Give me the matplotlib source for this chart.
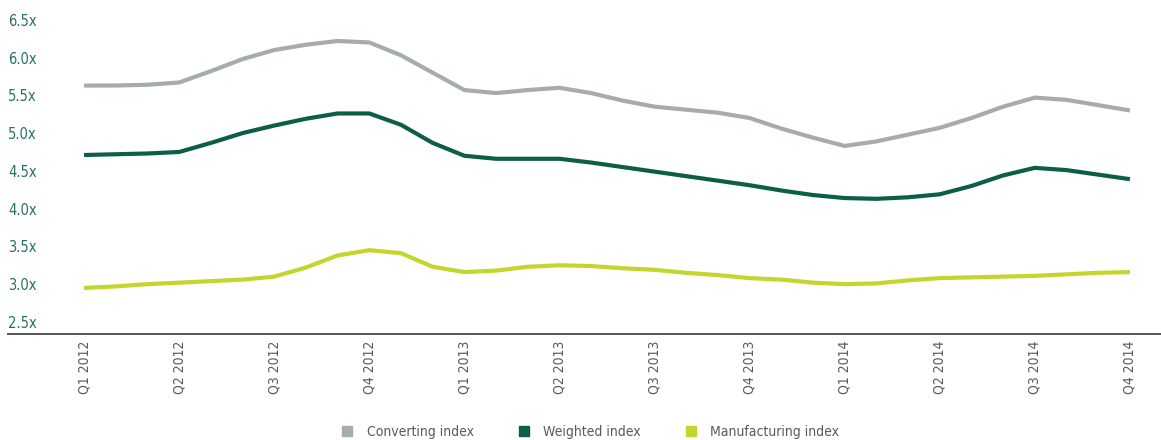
import matplotlib
matplotlib.use("Agg")
import matplotlib.pyplot as plt
from matplotlib.lines import Line2D
from matplotlib import font_manager

# monthly readings, Jan 2012 .. Oct 2014 (quarter ticks every 3 points)
converting = [5.63, 5.63, 5.64, 5.67, 5.82, 5.98, 6.10, 6.17, 6.22, 6.20,
              6.03, 5.80, 5.57, 5.53, 5.57, 5.60, 5.53, 5.43, 5.35, 5.31,
              5.27, 5.20, 5.06, 4.94, 4.83, 4.89, 4.98, 5.07, 5.20, 5.35,
              5.47, 5.44, 5.37, 5.30]
weighted = [4.71, 4.72, 4.73, 4.75, 4.87, 5.00, 5.10, 5.19, 5.26, 5.26,
            5.11, 4.87, 4.70, 4.66, 4.66, 4.66, 4.61, 4.55, 4.49, 4.43,
            4.37, 4.31, 4.24, 4.18, 4.14, 4.13, 4.15, 4.19, 4.30, 4.44,
            4.54, 4.51, 4.45, 4.39]
manufacturing = [2.95, 2.97, 3.00, 3.02, 3.04, 3.06, 3.10, 3.22, 3.38, 3.45,
                 3.41, 3.23, 3.16, 3.18, 3.23, 3.25, 3.24, 3.21, 3.19, 3.15,
                 3.12, 3.08, 3.06, 3.02, 3.00, 3.01, 3.05, 3.08, 3.09, 3.10,
                 3.11, 3.13, 3.15, 3.16]
quarters = ["Q1 2012", "Q2 2012", "Q3 2012", "Q4 2012",
            "Q1 2013", "Q2 2013", "Q3 2013", "Q4 2013",
            "Q1 2014", "Q2 2014", "Q3 2014", "Q4 2014"]
yticks = [2.5, 3.0, 3.5, 4.0, 4.5, 5.0, 5.5, 6.0, 6.5]

names = {f.name for f in font_manager.fontManager.ttflist}
if "Liberation Sans Narrow" in names:
    plt.rcParams["font.family"] = ["Liberation Sans Narrow", "DejaVu Sans"]
else:
    plt.rcParams["font.family"] = ["DejaVu Sans"]
    plt.rcParams["font.stretch"] = "condensed"

c_conv = "#a4adaa"
c_weight = "#0c5e4b"
c_manu = "#c4d52d"

fig = plt.figure(figsize=(11.61, 4.40), dpi=100)
ax = fig.add_axes([8 / 1161, 1 - 334 / 440, 1153 / 1161, 324 / 440])

months = list(range(len(converting)))
for vals, col in ((converting, c_conv), (weighted, c_weight), (manufacturing, c_manu)):
    ax.plot(months, vals, color=col, lw=3.0, solid_capstyle="butt",
            solid_joinstyle="round")

ax.set_xlim(-2.4, 33.98)
ax.set_ylim(2.34, 6.63)

ax.set_xticks(range(0, 34, 3))
ax.set_xticklabels(quarters, rotation=90, va="top", ha="center",
                   fontsize=10, color="#5a5a5a")
ax.set_yticks(yticks)
ax.set_yticklabels(["%.1fx" % v for v in yticks], fontsize=10.5,
                   color="#2b6e64", ha="left")
ax.tick_params(axis="y", length=0, pad=0)
ax.tick_params(axis="x", length=0, pad=5)

for s in ["top", "right", "left"]:
    ax.spines[s].set_visible(False)
ax.spines["bottom"].set_color("#555555")
ax.spines["bottom"].set_linewidth(1.4)

handles = [Line2D([], [], marker="s", ls="", color=c, markersize=7)
           for c in (c_conv, c_weight, c_manu)]
fig.legend(handles, ["Converting index", "Weighted index", "Manufacturing index"],
           loc="lower center", bbox_to_anchor=(0.505, -0.025), ncol=3,
           frameon=False, fontsize=10, labelcolor="#5a5a5a",
           handletextpad=0.4, columnspacing=2.6)

fig.savefig("out.png", dpi=100, facecolor="white")
